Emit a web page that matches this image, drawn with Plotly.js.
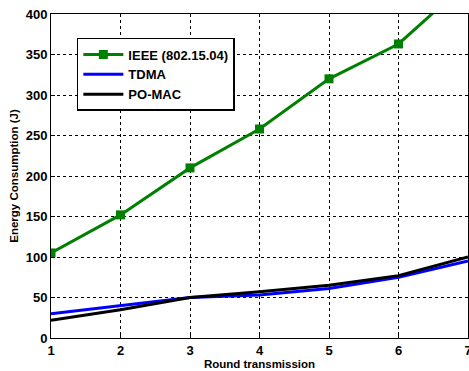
<!DOCTYPE html>
<html><head><meta charset="utf-8">
<script src="https://cdn.plot.ly/plotly-3.0.1.min.js"></script>
<style>html,body{margin:0;padding:0;background:#fff}#chart{width:469px;height:371px}</style>
</head><body><div id="chart"></div>
<script>
var rounds = [1, 2, 3, 4, 5, 6, 7];
var ieee = [105, 152, 210, 258, 320, 363, 440];
var tdma = [30, 40, 50, 53, 61, 75, 95];
var pomac = [22, 35, 50, 57, 65, 77, 100];
var xTicks = [1, 2, 3, 4, 5, 6, 7];
var yTicks = [0, 50, 100, 150, 200, 250, 300, 350, 400];

var data = [
  {x: rounds, y: ieee, name: 'IEEE (802.15.04)', mode: 'lines+markers',
   line: {color: '#008000', width: 3}, marker: {symbol: 'square', size: 9, color: '#008000'}},
  {x: rounds, y: tdma, name: 'TDMA', mode: 'lines', line: {color: '#0000ff', width: 3}},
  {x: rounds, y: pomac, name: 'PO-MAC', mode: 'lines', line: {color: '#000000', width: 3}}
];
var fnt = {family: 'Liberation Sans, Arial, sans-serif', size: 12, color: '#000'};
var layout = {
  width: 469, height: 371,
  margin: {l: 51, r: 1, t: 14, b: 33},
  paper_bgcolor: '#fff', plot_bgcolor: '#fff',
  font: fnt,
  showlegend: true,
  legend: {x: 0.062, y: 0.926, xanchor: 'left', yanchor: 'top', bgcolor: '#fff',
    bordercolor: '#000', borderwidth: 1.5, font: {family: fnt.family, size: 13, weight: 'bold', color: '#000'},
    tracegroupgap: 0, itemwidth: 40},
  xaxis: {range: [1, 7], tickvals: xTicks, ticktext: xTicks.map(String),
    showgrid: true, gridcolor: '#000', griddash: 'dot', gridwidth: 1,
    showline: true, linecolor: '#000', linewidth: 1, mirror: true,
    ticks: 'inside', ticklen: 4, tickcolor: '#000', zeroline: false,
    ticklabeloverflow: 'allow',
    tickfont: {family: fnt.family, size: 13, weight: 'bold'},
    title: {text: 'Round transmission', font: {family: fnt.family, size: 11.5, weight: 'bold'}, standoff: 2}},
  yaxis: {range: [0, 400], tickvals: yTicks, ticktext: yTicks.map(String),
    showgrid: true, gridcolor: '#000', griddash: 'dot', gridwidth: 1,
    showline: true, linecolor: '#000', linewidth: 1, mirror: true,
    ticks: 'inside', ticklen: 4, tickcolor: '#000', zeroline: false,
    ticklabeloverflow: 'allow',
    tickfont: {family: fnt.family, size: 13, weight: 'bold'},
    title: {text: 'Energy Consumption (J)', font: {family: fnt.family, size: 11.5, weight: 'bold'}, standoff: 4}}
};
Plotly.newPlot('chart', data, layout, {displayModeBar: false, staticPlot: true});
</script></body></html>
